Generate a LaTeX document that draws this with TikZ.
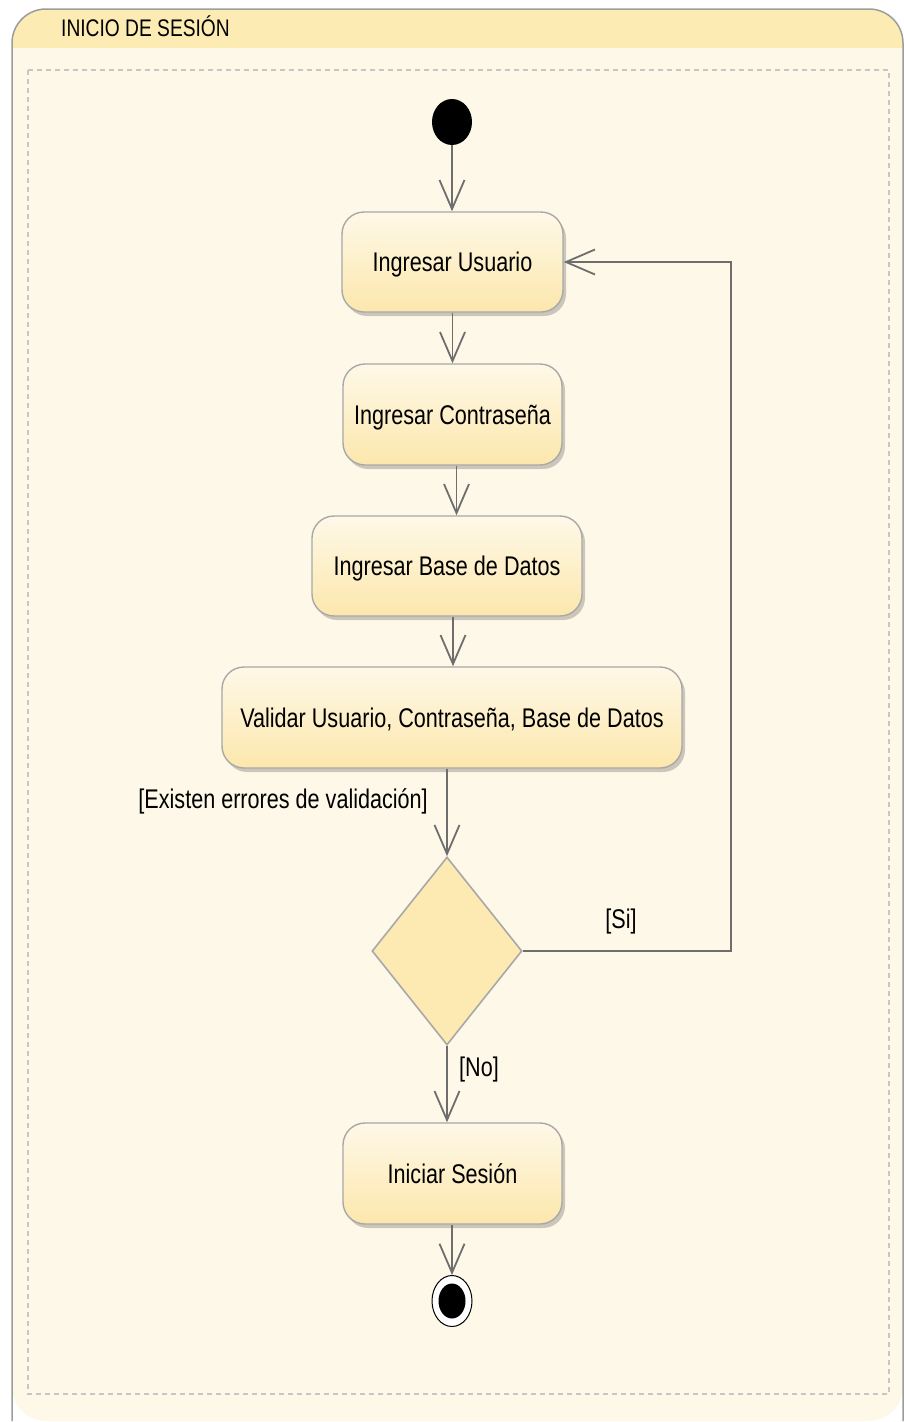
\documentclass[tikz,border=0pt]{standalone}
\usepackage{fontspec}
\newfontfamily\umlfont[FakeStretch=0.8]{Liberation Sans}
\usetikzlibrary{arrows.meta,shapes.geometric,shadows}

\definecolor{bodybg}{HTML}{FEF8E8}
\definecolor{headbg}{HTML}{FDEBB4}
\definecolor{framegray}{HTML}{9C9C9C}
\definecolor{dashgray}{HTML}{C6C6C6}
\definecolor{boxtop}{HTML}{FEF8E8}
\definecolor{boxbot}{HTML}{FCE7AC}
\definecolor{boxline}{HTML}{A8A8A8}
\definecolor{flowgray}{HTML}{6E6E6E}
\definecolor{diafill}{HTML}{FDEAB2}

\tikzset{
  action/.style={draw=boxline, line width=1.4pt, rounded corners=22pt,
    top color=boxtop, bottom color=boxbot,
    drop shadow={shadow xshift=3pt, shadow yshift=-4pt, opacity=0.2, fill=black},
    font=\umlfont\fontsize{27}{32}\selectfont, inner sep=0pt, text=black, text depth=0pt},
  flow/.style={draw=flowgray, line width=1.8pt,
    -{Straight Barb[length=29pt,width=25pt]}},
  guard/.style={font=\umlfont\fontsize{27}{32}\selectfont, inner sep=0pt, text=black},
}

\begin{document}
\begin{tikzpicture}[x=1pt, y=-1pt]
  \useasboundingbox (0,0) rectangle (904,1422);

  % swimlane frame with its header band
  \path[fill=bodybg, rounded corners=34pt] (12,1421) -- (12,9) -- (903,9) -- (903,1421) -- cycle;
  \begin{scope}
    \clip[rounded corners=34pt] (12,1421) -- (12,9) -- (903,9) -- (903,1421) -- cycle;
    \fill[headbg] (0,0) rectangle (904,48);
  \end{scope}
  \draw[framegray, line width=1.5pt, rounded corners=34pt] (12,1421) -- (12,9) -- (903,9) -- (903,1421);
  \node[anchor=west, font=\umlfont\fontsize{24}{28}\selectfont, inner sep=0pt, text=black] (title) at (61,26) {INICIO DE SESIÓN};

  % dashed content area
  \draw[dashgray, line width=1.5pt, dash pattern=on 5pt off 4pt] (28,70) rectangle (889,1394);

  % initial node
  \node[ellipse, fill=black, minimum width=40pt, minimum height=46pt, inner sep=0pt] (start) at (452,122) {};

  % actions
  \node[action, minimum width=221pt, minimum height=100pt] (usr) at (452.5,262) {Ingresar Usuario};
  \node[action, minimum width=219pt, minimum height=101pt] (con) at (452.5,414.5) {Ingresar Contraseña};
  \node[action, minimum width=270pt, minimum height=100pt] (bd) at (447,566) {Ingresar Base de Datos};
  \node[action, minimum width=460pt, minimum height=101pt] (val) at (452,717.5) {Validar Usuario, Contraseña, Base de Datos};

  % decision
  \node[diamond, draw=boxline, fill=diafill, line width=1.6pt, shape aspect=0.8,
        minimum width=150pt, minimum height=188pt, inner sep=0pt] (dec) at (447,951) {};

  \node[action, minimum width=219pt, minimum height=101pt] (ini) at (452.5,1173.5) {Iniciar Sesión};

  % final node
  \node[ellipse, draw=black, line width=1pt, fill=white, minimum width=40pt, minimum height=51pt, inner sep=0pt] (endo) at (452,1301) {};
  \node[ellipse, fill=black, minimum width=27pt, minimum height=35pt, inner sep=0pt] (endcore) at (endo) {};

  % control flows
  \draw[flow] (start.south) -- (start.south |- usr.north);
  \draw[flow] (usr.south) -- (usr.south |- con.north);
  \draw[flow] ([xshift=4pt]con.south) -- ([xshift=4pt]con.south |- bd.north);
  \draw[flow] ([xshift=6pt]bd.south) -- ([xshift=6pt]bd.south |- val.north);
  \draw[flow] (dec.north |- val.south) -- (dec.north);
  \coordinate (loop) at (731,951);
  \draw[flow] (dec.east) -- (loop) |- (usr.east);
  \draw[flow] (dec.south) -- (dec.south |- ini.north);
  \draw[flow] (ini.south -| endo.north) -- (endo.north);

  % guards
  \node[guard, anchor=east] (lerr) at (428,801) {[Existen errores de validación]};
  \node[guard] (lsi) at (621,922) {[Si]};
  \node[guard] (lno) at (479,1070) {[No]};
\end{tikzpicture}
\end{document}
